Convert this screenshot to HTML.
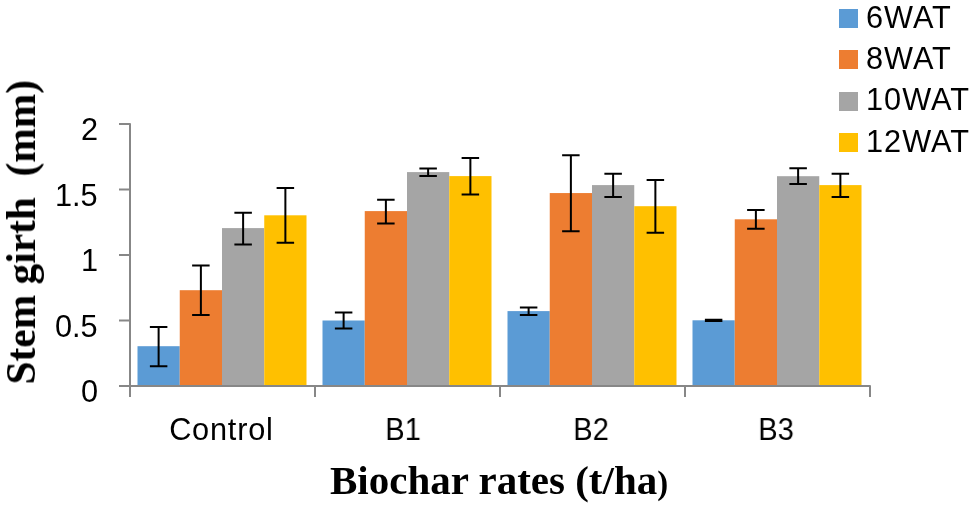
<!DOCTYPE html>
<html><head><meta charset="utf-8"><style>
html,body{margin:0;padding:0;background:#fff;}
.yl,.cl,.lt,.xt,.yt{-webkit-font-smoothing:antialiased;will-change:transform;}
body{width:969px;height:507px;position:relative;overflow:hidden;}
svg{position:absolute;left:0;top:0;}
.yl{position:absolute;right:871px;font:30.7px/34px "Liberation Sans",sans-serif;color:#000;text-align:right;white-space:nowrap;}
.cl{position:absolute;top:413.4px;width:160px;text-align:center;font:30.7px/34px "Liberation Sans",sans-serif;color:#000;white-space:nowrap;}
.lsq{position:absolute;left:839px;width:19px;height:19px;}
.lt{position:absolute;left:866.3px;letter-spacing:1px;font:30.7px/34px "Liberation Sans",sans-serif;color:#000;white-space:nowrap;}
.sp{font-size:0.8em;}
.xt{position:absolute;left:330.2px;top:456.9px;font:bold 41px/46px "Liberation Serif",serif;color:#000;white-space:nowrap;}
.yt{position:absolute;left:0;top:0;font:bold 41.4px/46px "Liberation Serif",serif;color:#000;white-space:nowrap;transform-origin:0 0;transform:translate(-2px,384.5px) rotate(-90deg);}
</style></head><body>
<svg width="969" height="507" viewBox="0 0 969 507">
<g>
<rect x="137.50" y="346.20" width="42.25" height="39.80" fill="#5B9BD5"/><rect x="179.75" y="290.20" width="42.25" height="95.80" fill="#ED7D31"/><rect x="222.00" y="228.10" width="42.25" height="157.90" fill="#A5A5A5"/><rect x="264.25" y="215.30" width="42.25" height="170.70" fill="#FFC000"/><rect x="322.50" y="320.50" width="42.25" height="65.50" fill="#5B9BD5"/><rect x="364.75" y="211.10" width="42.25" height="174.90" fill="#ED7D31"/><rect x="407.00" y="172.10" width="42.25" height="213.90" fill="#A5A5A5"/><rect x="449.25" y="176.10" width="42.25" height="209.90" fill="#FFC000"/><rect x="507.50" y="311.10" width="42.25" height="74.90" fill="#5B9BD5"/><rect x="549.75" y="193.06" width="42.25" height="192.94" fill="#ED7D31"/><rect x="592.00" y="185.10" width="42.25" height="200.90" fill="#A5A5A5"/><rect x="634.25" y="206.20" width="42.25" height="179.80" fill="#FFC000"/><rect x="692.50" y="320.30" width="42.25" height="65.70" fill="#5B9BD5"/><rect x="734.75" y="219.30" width="42.25" height="166.70" fill="#ED7D31"/><rect x="777.00" y="176.20" width="42.25" height="209.80" fill="#A5A5A5"/><rect x="819.25" y="185.10" width="42.25" height="200.90" fill="#FFC000"/>
</g>
<g stroke="#878787" stroke-width="2" fill="none" stroke-linejoin="round">
<path d="M119 124H130V397" /><path d="M119 189.50H130"/><path d="M119 255.00H130"/><path d="M119 320.50H130"/><path d="M119 386.00H130"/><path d="M119 386H870V397"/><path d="M315.00 386V397"/><path d="M500.00 386V397"/><path d="M685.00 386V397"/>
</g>
<g stroke="#000" stroke-width="2" fill="none">
<path d="M158.62 327.00V366.30M149.88 327.00H167.38M149.88 366.30H167.38"/><path d="M200.88 265.40V315.10M192.12 265.40H209.62M192.12 315.10H209.62"/><path d="M243.12 212.80V244.60M234.38 212.80H251.88M234.38 244.60H251.88"/><path d="M285.38 187.90V242.70M276.62 187.90H294.12M276.62 242.70H294.12"/><path d="M343.62 312.60V328.40M334.88 312.60H352.38M334.88 328.40H352.38"/><path d="M385.88 199.70V223.50M377.12 199.70H394.62M377.12 223.50H394.62"/><path d="M428.12 168.60V176.00M419.38 168.60H436.88M419.38 176.00H436.88"/><path d="M470.38 157.90V194.40M461.62 157.90H479.12M461.62 194.40H479.12"/><path d="M528.62 307.40V315.00M519.88 307.40H537.38M519.88 315.00H537.38"/><path d="M570.88 155.30V231.20M562.12 155.30H579.62M562.12 231.20H579.62"/><path d="M613.12 173.70V197.10M604.38 173.70H621.88M604.38 197.10H621.88"/><path d="M655.38 180.10V232.70M646.62 180.10H664.12M646.62 232.70H664.12"/><path d="M713.62 319.70V320.90M704.88 319.70H722.38M704.88 320.90H722.38"/><path d="M755.88 210.10V228.80M747.12 210.10H764.62M747.12 228.80H764.62"/><path d="M798.12 168.30V184.10M789.38 168.30H806.88M789.38 184.10H806.88"/><path d="M840.38 173.70V197.10M831.62 173.70H849.12M831.62 197.10H849.12"/>
</g>
</svg>
<div class="yl" style="top:113.0px">2</div><div class="yl" style="top:178.5px">1.5</div><div class="yl" style="top:244.0px">1</div><div class="yl" style="top:309.5px">0.5</div><div class="yl" style="top:375.0px">0</div>
<div class="cl" style="left:141.4px;letter-spacing:0.8px;text-indent:0.8px">Control</div><div class="cl" style="left:322.5px;transform:scaleX(0.95)">B1</div><div class="cl" style="left:511.4px;transform:scaleX(0.95)">B2</div><div class="cl" style="left:696.3px;transform:scaleX(0.95)">B3</div>
<div class="lsq" style="top:8.9px;background:#5B9BD5"></div><div class="lt" style="top:0.9px">6WAT</div><div class="lsq" style="top:50.3px;background:#ED7D31"></div><div class="lt" style="top:42.1px">8WAT</div><div class="lsq" style="top:91.7px;background:#A5A5A5"></div><div class="lt" style="top:83.3px">10WAT</div><div class="lsq" style="top:133.1px;background:#FFC000"></div><div class="lt" style="top:124.5px">12WAT</div>
<div class="xt">Biochar rates (t/ha<span class="sp">)</span></div>
<div class="yt">Stem girth &nbsp;(mm)</div>
</body></html>
